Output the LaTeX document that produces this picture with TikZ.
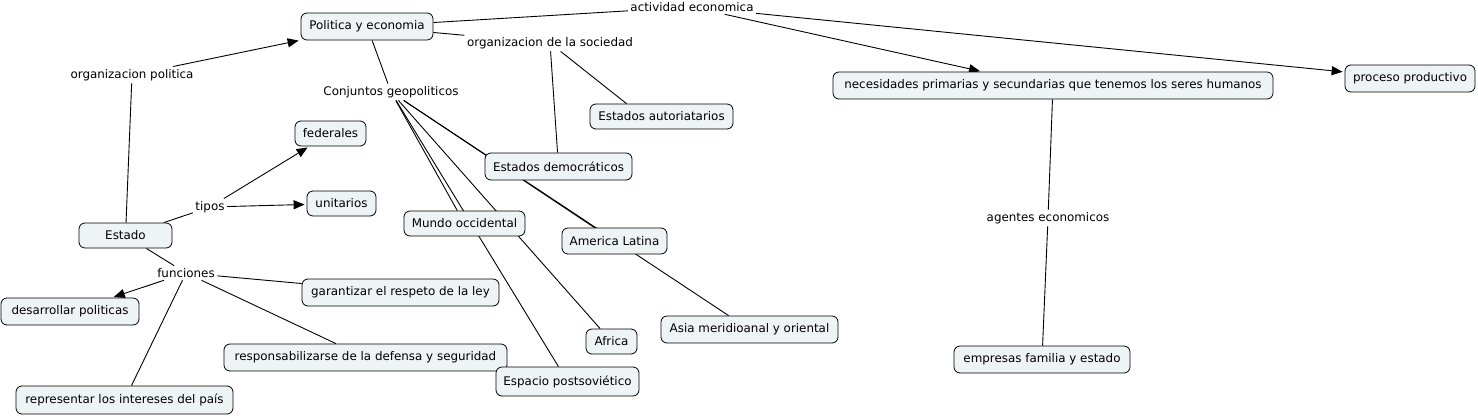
\documentclass[tikz,border=0pt]{standalone}
\usepackage{fontspec}
\setmainfont{DejaVu Sans}
\usetikzlibrary{arrows.meta,backgrounds}
\definecolor{boxfill}{HTML}{EEF3F5}
\begin{document}
\begin{tikzpicture}[x=1pt,y=-1pt,
  txt/.style={font=\fontsize{11.9}{14}\selectfont},
  box/.style={txt, draw=black, line width=0.8pt, rounded corners=6pt, fill=boxfill, inner sep=0pt},
  lp/.style={txt, inner sep=2.5pt},
  link/.style={draw=black, line width=0.9pt},
  arr/.style={link, shorten >=2pt, -{Triangle[length=11pt,width=9pt]}}]
\useasboundingbox (0,0) rectangle (1478,418);
% concept boxes
\node[box, minimum width=132pt, minimum height=27pt] (pye) at (367,26.5) {Politica y economia};
\node[box, minimum width=71pt, minimum height=25pt] (fed) at (330.5,133.5) {federales};
\node[box, minimum width=69pt, minimum height=25pt] (uni) at (341.5,203.5) {unitarios};
\node[box, minimum width=93pt, minimum height=25pt] (est) at (125.5,235.5) {Estado};
\node[box, minimum width=138pt, minimum height=27pt] (des) at (70,311.5) {desarrollar politicas};
\node[box, minimum width=197pt, minimum height=27pt] (gar) at (400.5,292.5) {garantizar el respeto de la ley};
\node[box, minimum width=283pt, minimum height=27pt] (res) at (365.5,357.5) {responsabilizarse de la defensa y seguridad};
\node[box, minimum width=217pt, minimum height=28pt] (rep) at (124.5,400) {representar los intereses del país};
\node[box, minimum width=147pt, minimum height=27pt] (dem) at (558.5,166.5) {Estados democráticos};
\node[box, minimum width=143pt, minimum height=25pt] (aut) at (661.5,116.5) {Estados autoriatarios};
\node[box, minimum width=121pt, minimum height=25pt] (mun) at (464.5,223.5) {Mundo occidental};
\node[box, minimum width=105pt, minimum height=26pt] (ame) at (614.5,241) {America Latina};
\node[box, minimum width=51pt, minimum height=25pt] (afr) at (611.5,341.5) {Africa};
\node[box, minimum width=177pt, minimum height=27pt] (asi) at (749.5,329.5) {Asia meridioanal y oriental};
\node[box, minimum width=143pt, minimum height=29pt] (esp) at (567.5,381.5) {Espacio postsoviético};
\node[box, minimum width=440pt, minimum height=27pt] (nec) at (1053,85.5) {necesidades primarias y secundarias que tenemos los seres humanos};
\node[box, minimum width=130pt, minimum height=27pt] (pro) at (1410,78.5) {proceso productivo};
\node[box, minimum width=176pt, minimum height=27pt] (emp) at (1042,359.5) {empresas familia y estado};
% linking phrases
\node[lp] (act) at (692,7) {actividad economica};
\node[lp] (osoc) at (550,43) {organizacion de la sociedad};
\node[lp] (opol) at (132,75) {organizacion politica};
\node[lp] (conj) at (391,92) {Conjuntos geopoliticos};
\node[lp] (tip) at (210,207) {tipos};
\node[lp] (fun) at (186,273) {funciones};
\node[lp] (age) at (1048,218) {agentes economicos};
% connectors
\begin{pgfonlayer}{background}
\draw[link] (est) -- (opol);
\draw[arr] (opol) -- (pye);
\draw[link] (est) -- (tip);
\draw[arr] (tip) -- (fed);
\draw[arr] (tip) -- (uni);
\draw[link] (est) -- (fun);
\draw[arr] (fun) -- (des);
\draw[link] (fun) -- (gar);
\draw[link] (fun) -- (res);
\draw[link] (fun) -- (rep);
\draw[link] (pye) -- (act);
\draw[arr] (act) -- ([xshift=-71pt]nec.north);
\draw[arr] (act) -- (pro);
\draw[link] (nec) -- (age);
\draw[link] (age) -- (emp);
\draw[link] (pye) -- (osoc);
\draw[link] (osoc) -- (dem);
\draw[link] (osoc) -- ([xshift=-35pt]aut.north);
\draw[link] (pye) -- (conj);
\draw[link] (conj) -- (mun);
\draw[link] (conj) -- (esp);
\draw[link] (conj) -- (afr);
\draw[link] (conj) -- (ame);
\draw[link] (conj) -- (asi);
\end{pgfonlayer}
\end{tikzpicture}
\end{document}
